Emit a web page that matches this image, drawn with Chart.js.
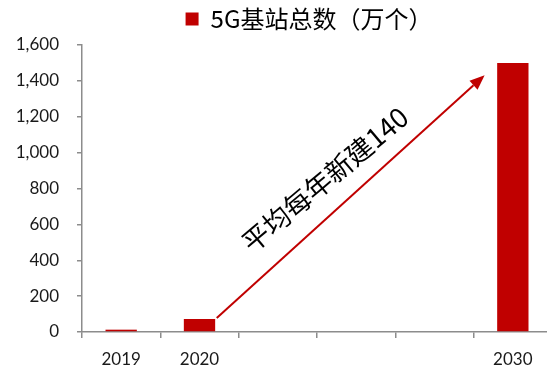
<!DOCTYPE html>
<html>
<head>
<meta charset="utf-8">
<script src="https://cdn.jsdelivr.net/npm/chart.js@4/dist/chart.umd.min.js"></script>
<style>
  html, body { margin: 0; padding: 0; background: #fff; overflow: hidden; }
  #wrap { width: 552px; height: 371px; position: relative; }
</style>
</head>
<body>
<div id="wrap"><canvas id="c"></canvas></div>
<script>
// Categories along the x axis (blank slots keep the year spacing)
const categories = ['2019', '2020', '', '', '', '2030'];
// 5G base stations in total (10k units)
const stations = [13, 72, null, null, null, 1500];
// Y axis range and step
const yMax = 1600;
const yStep = 200;
// Arrow annotation: start and end in data units [category index, value]
const arrowFrom = [1.22, 78];
const arrowTo = [4.64, 1432];
// Annotation text and its anchor in data units
const noteText = '平均每年新建140';
const noteAt = [2.6, 850];

const RED = '#C00000';
const AXIS = '#8C8C8C';
const TXT = '#1a1a1a';

// Nudge the legend so it sits over the plot rather than the whole canvas
const legendShift = {
  id: 'legendShift',
  afterLayout(chart) {
    const lg = chart.legend;
    if (!lg) return;
    const dx = 33, dy = -4;
    lg.left += dx;
    lg.right += dx;
    lg.top += dy;
    lg.bottom += dy;
  }
};

const arrowPlugin = {
  id: 'growthArrow',
  afterDatasetsDraw(chart) {
    const { ctx, scales: { x, y } } = chart;
    const x0 = x.getPixelForValue(arrowFrom[0]), y0 = y.getPixelForValue(arrowFrom[1]);
    const x1 = x.getPixelForValue(arrowTo[0]), y1 = y.getPixelForValue(arrowTo[1]);
    const ang = Math.atan2(y1 - y0, x1 - x0);
    const head = 15, half = 6;
    ctx.save();
    ctx.strokeStyle = RED;
    ctx.fillStyle = RED;
    ctx.lineWidth = 2;
    ctx.beginPath();
    ctx.moveTo(x0, y0);
    ctx.lineTo(x1 - head * Math.cos(ang), y1 - head * Math.sin(ang));
    ctx.stroke();
    ctx.beginPath();
    ctx.moveTo(x1, y1);
    ctx.lineTo(x1 - head * Math.cos(ang) + half * Math.sin(ang), y1 - head * Math.sin(ang) - half * Math.cos(ang));
    ctx.lineTo(x1 - head * Math.cos(ang) - half * Math.sin(ang), y1 - head * Math.sin(ang) + half * Math.cos(ang));
    ctx.closePath();
    ctx.fill();

    const tx = x.getPixelForValue(noteAt[0]), ty = y.getPixelForValue(noteAt[1]);
    ctx.translate(tx, ty);
    ctx.rotate(-40 * Math.PI / 180);
    ctx.fillStyle = '#000';
    ctx.font = '27px "Noto Sans CJK SC"';
    ctx.textAlign = 'center';
    ctx.textBaseline = 'middle';
    ctx.fillText(noteText, 0, 0);
    ctx.restore();
  }
};

new Chart(document.getElementById('c'), {
  type: 'bar',
  data: {
    labels: categories,
    datasets: [{
      label: '5G基站总数（万个）',
      data: stations,
      backgroundColor: RED,
      borderWidth: 0,
      barPercentage: 0.4,
      categoryPercentage: 1.0
    }]
  },
  options: {
    responsive: true,
    maintainAspectRatio: false,
    animation: false,
    layout: { padding: { top: 3, right: 0, bottom: 0, left: 0 } },
    plugins: {
      legend: {
        position: 'top',
        labels: {
          boxWidth: 13,
          boxHeight: 13,
          padding: 8,
          color: '#000',
          font: { family: '"Noto Sans CJK SC"', size: 24 }
        }
      },
      tooltip: { enabled: false }
    },
    scales: {
      x: {
        offset: true,
        afterFit(s) { s.height = 39; },
        grid: {
          offset: true,
          drawOnChartArea: false,
          drawTicks: true,
          tickLength: 6,
          color: AXIS,
          lineWidth: 1.5
        },
        border: { color: AXIS, width: 1.5 },
        ticks: {
          color: TXT,
          padding: 11,
          maxRotation: 0,
          autoSkip: false,
          font: { family: 'Lato', size: 17 }
        }
      },
      y: {
        min: 0,
        max: yMax,
        afterFit(s) { s.width = 82; },
        grid: {
          drawOnChartArea: false,
          drawTicks: true,
          tickLength: 5,
          color: AXIS,
          lineWidth: 1.5
        },
        border: { color: AXIS, width: 1.5 },
        ticks: {
          stepSize: yStep,
          color: TXT,
          padding: 18,
          font: { family: 'Lato', size: 17 },
          callback: v => v.toLocaleString('en-US')
        }
      }
    }
  },
  plugins: [legendShift, arrowPlugin]
});
</script>
</body>
</html>
